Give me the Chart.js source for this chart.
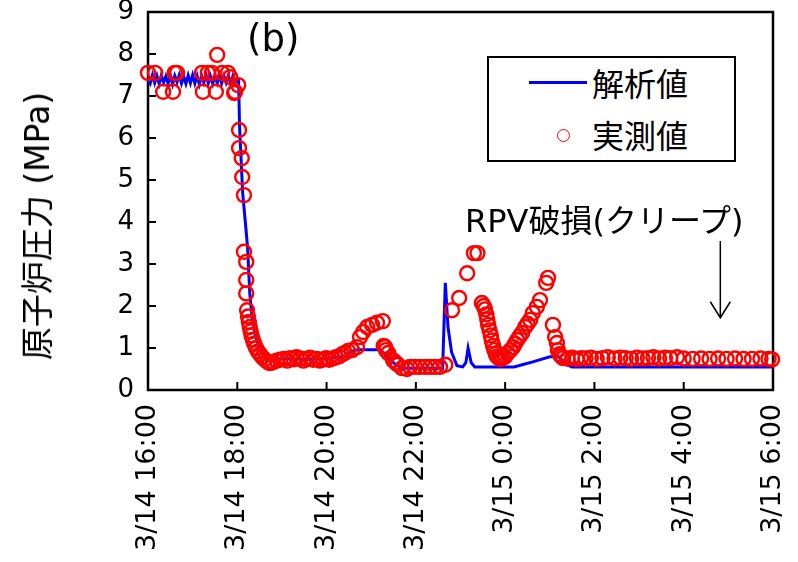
<!DOCTYPE html>
<html>
<head>
<meta charset="utf-8">
<script src="https://cdn.jsdelivr.net/npm/chart.js@4.4.1/dist/chart.umd.min.js"></script>
<style>
  html, body { margin: 0; padding: 0; background: #fff; }
  #wrap { position: relative; width: 798px; height: 562px; }
  #chart { position: absolute; left: 0; top: 0; }
  .txt { position: absolute; white-space: nowrap; color: #000; font-family: "DejaVu Sans", "Noto Sans CJK JP", sans-serif; }
  #yTitle { left: 35px; top: 226px; font-size: 33px; transform: translate(-50%, -50%) rotate(-90deg); }
  #panel { left: 247px; top: 17px; font-size: 37px; }
  #note { left: 465px; top: 195px; font-size: 32px; }
  #legend { position: absolute; left: 487px; top: 56px; width: 245px; height: 102px; border: 2px solid #000; background: #fff; }
  #legend .name { position: absolute; left: 103px; font-size: 32px; line-height: 40px; font-family: "Noto Sans CJK JP", sans-serif; }
  #legLine { position: absolute; left: 40px; top: 23px; width: 58px; height: 3px; background: #0000ff; }
  #legDot { position: absolute; left: 68px; top: 71px; width: 11px; height: 11px; border: 1.5px solid #ff0000; border-radius: 50%; }
</style>
</head>
<body>
<div id="wrap">
  <canvas id="chart" width="798" height="562"></canvas>
  <div class="txt" id="yTitle">原子炉圧力 (MPa)</div>
  <div class="txt" id="panel">(b)</div>
  <div class="txt" id="note">RPV破損(クリープ)</div>
  <div id="legend">
    <div id="legLine"></div>
    <div class="name" style="top: 4px;">解析値</div>
    <div id="legDot"></div>
    <div class="name" style="top: 56px;">実測値</div>
  </div>
</div>
<script>
// 時刻は 3/14 16:00 からの経過時間 (h)
const xTickLabels = ['3/14 16:00', '3/14 18:00', '3/14 20:00', '3/14 22:00',
                     '3/15 0:00', '3/15 2:00', '3/15 4:00', '3/15 6:00'];

// 解析値
const calcTime = [0, 0.05, 0.1, 0.15, 0.2, 0.25, 0.3, 0.35, 0.4, 0.45, 0.5, 0.55, 0.6, 0.65, 0.7, 0.75, 0.8, 0.85, 0.9, 0.95,
    1.0, 1.05, 1.1, 1.15, 1.2, 1.25, 1.3, 1.35, 1.4, 1.45, 1.5, 1.55, 1.6, 1.65, 1.7, 1.75, 1.8, 1.85, 1.9, 1.95, 2.0,
    2.03, 2.05, 2.12, 2.18, 2.23, 2.28, 2.33, 2.40, 2.50, 2.60, 2.80, 3.20, 3.60, 4.00, 4.40, 4.55, 4.70, 5.20, 5.35,
    5.55, 5.70, 6.60, 6.66, 6.72, 6.80, 6.92, 7.05, 7.12, 7.17, 7.24, 7.32, 8.20, 8.38, 8.62, 9.00, 9.20, 9.38, 9.50, 14.0];
const calcPressure = [7.40, 7.30, 7.50, 7.31, 7.48, 7.29, 7.50, 7.32, 7.47, 7.30, 7.49, 7.28, 7.48, 7.33, 7.50, 7.30, 7.47, 7.29, 7.49, 7.31,
    7.50, 7.30, 7.48, 7.28, 7.49, 7.32, 7.50, 7.30, 7.47, 7.29, 7.49, 7.31, 7.50, 7.30, 7.48, 7.32, 7.49, 7.29, 7.47, 7.31, 7.42,
    7.38, 6.30, 4.70, 4.00, 3.40, 2.30, 1.75, 1.30, 1.00, 0.82, 0.75, 0.74, 0.73, 0.75, 0.80, 0.92, 0.96, 0.96, 0.80,
    0.60, 0.52, 0.52, 2.55, 1.50, 0.90, 0.58, 0.55, 0.65, 1.00, 0.65, 0.55, 0.55, 0.60, 0.67, 0.79, 0.79, 0.60, 0.55, 0.55];

// 実測値
const measTime = [0.00, 0.16, 0.34, 0.56, 0.60, 0.65, 1.21, 1.23, 1.34, 1.43, 1.52, 1.55, 1.66, 1.79, 1.84, 1.93, 1.95, 2.02,
    2.04, 2.04, 2.10, 2.11, 2.15, 2.15, 2.20, 2.20, 2.20, 2.22,
    2.24, 2.26, 2.28, 2.30, 2.32, 2.35, 2.38, 2.42, 2.46, 2.51, 2.56, 2.62, 2.68, 2.73, 2.80, 2.88, 2.96, 3.05, 3.12,
    3.18, 3.26, 3.33, 3.41, 3.48, 3.55, 3.63, 3.70, 3.78, 3.85, 3.92, 3.99, 4.06, 4.14, 4.21, 4.28, 4.35, 4.41, 4.48,
    4.57, 4.68, 4.75, 4.82, 4.91, 5.02, 5.13, 5.26, 5.28, 5.31, 5.33, 5.38, 5.49, 5.55, 5.60, 5.69,
    5.80, 5.87, 5.98, 6.09, 6.21, 6.32, 6.43, 6.54, 6.66,
    6.81, 6.97, 7.15, 7.30, 7.38, 7.48, 7.52, 7.55, 7.58, 7.60, 7.62, 7.65, 7.68, 7.70, 7.73, 7.76, 7.79, 7.82, 7.86,
    7.90, 7.94, 8.00, 8.06, 8.12, 8.18, 8.22, 8.27, 8.32, 8.38, 8.45, 8.50, 8.56, 8.62, 8.71, 8.78, 8.92, 8.96,
    9.07, 9.12, 9.16, 9.18, 9.22, 9.26, 9.30,
    9.40, 9.50, 9.60, 9.70, 9.80, 9.92, 10.05, 10.18, 10.30, 10.45, 10.58, 10.70, 10.82, 10.95, 11.08, 11.20, 11.32,
    11.45, 11.58, 11.70, 11.85, 12.00, 12.20, 12.39, 12.58, 12.77, 12.96, 13.15, 13.34, 13.53, 13.72, 13.90, 13.98];
const measPressure = [7.55, 7.55, 7.10, 7.10, 7.55, 7.55, 7.55, 7.10, 7.55, 7.55, 7.10, 7.98, 7.55, 7.55, 7.45, 7.07, 7.10, 7.26,
    6.19, 5.76, 5.52, 5.07, 4.64, 3.29, 3.05, 2.62, 2.30, 1.90,
    1.75, 1.62, 1.50, 1.40, 1.30, 1.20, 1.10, 1.00, 0.92, 0.85, 0.78, 0.72, 0.67, 0.64, 0.66, 0.70, 0.72, 0.74, 0.70,
    0.76, 0.73, 0.78, 0.75, 0.70, 0.74, 0.77, 0.72, 0.74, 0.70, 0.73, 0.76, 0.72, 0.75, 0.78, 0.80, 0.85, 0.88, 0.93,
    0.95, 1.02, 1.26, 1.38, 1.50, 1.55, 1.60, 1.64, 1.05, 1.02, 0.95, 0.88, 0.71, 0.65, 0.60, 0.52,
    0.50, 0.55, 0.55, 0.55, 0.55, 0.55, 0.55, 0.55, 0.60,
    1.90, 2.19, 2.78, 3.26, 3.26, 2.07, 2.00, 1.92, 1.80, 1.68, 1.55, 1.42, 1.30, 1.18, 1.05, 0.95, 0.86, 0.80, 0.76,
    0.74, 0.76, 0.79, 0.88, 0.95, 1.02, 1.10, 1.19, 1.27, 1.36, 1.50, 1.58, 1.67, 1.83, 1.98, 2.14, 2.55, 2.67,
    1.55, 1.26, 1.12, 0.95, 0.85, 0.80, 0.76,
    0.75, 0.77, 0.74, 0.76, 0.75, 0.77, 0.74, 0.76, 0.78, 0.75, 0.77, 0.76, 0.74, 0.77, 0.75, 0.76, 0.78,
    0.75, 0.77, 0.76, 0.78, 0.75, 0.74, 0.75, 0.74, 0.75, 0.74, 0.75, 0.74, 0.74, 0.75, 0.74, 0.73];

// 矢印 (RPV破損) の位置 (データ座標)
const arrowTime = 12.82;
const arrowTop = 3.55;
const arrowBottom = 1.72;

const toPoints = (xs, ys) => xs.map((x, i) => ({ x: x, y: ys[i] }));

// 枠線・内向きの目盛り・矢印
const framePlugin = {
    id: 'frame',
    beforeDatasetsDraw(chart) {
        const { ctx, chartArea: a, scales } = chart;
        ctx.save();
        ctx.strokeStyle = '#000';
        ctx.lineWidth = 2.5;
        ctx.strokeRect(a.left, a.top, a.right - a.left, a.bottom - a.top);
        ctx.lineWidth = 2;
        ctx.beginPath();
        scales.x.ticks.forEach(t => {
            const px = scales.x.getPixelForValue(t.value);
            ctx.moveTo(px, a.bottom);
            ctx.lineTo(px, a.bottom - 8);
        });
        scales.y.ticks.forEach(t => {
            const py = scales.y.getPixelForValue(t.value);
            ctx.moveTo(a.left, py);
            ctx.lineTo(a.left + 8, py);
        });
        ctx.stroke();
        ctx.restore();
    },
    afterDatasetsDraw(chart) {
        const { ctx, scales } = chart;
        const ax = scales.x.getPixelForValue(arrowTime);
        const y0 = scales.y.getPixelForValue(arrowTop);
        const y1 = scales.y.getPixelForValue(arrowBottom);
        ctx.save();
        ctx.strokeStyle = '#000';
        ctx.lineWidth = 1.5;
        ctx.beginPath();
        ctx.moveTo(ax, y0);
        ctx.lineTo(ax, y1);
        ctx.moveTo(ax - 10, y1 - 16);
        ctx.lineTo(ax, y1);
        ctx.lineTo(ax + 10, y1 - 16);
        ctx.stroke();
        ctx.restore();
    }
};

new Chart(document.getElementById('chart').getContext('2d'), {
    type: 'scatter',
    data: {
        datasets: [{
            label: '実測値',
            data: toPoints(measTime, measPressure),
            pointStyle: 'circle',
            pointRadius: 7,
            pointBorderWidth: 2.4,
            pointBorderColor: '#ff0000',
            pointBackgroundColor: 'rgba(0,0,0,0)',
            showLine: false,
            clip: false
        }, {
            label: '解析値',
            data: toPoints(calcTime, calcPressure),
            showLine: true,
            borderColor: '#0000ff',
            borderWidth: 3,
            pointRadius: 0,
            tension: 0,
            clip: false
        }]
    },
    options: {
        responsive: false,
        animation: false,
        layout: { autoPadding: false, padding: { top: 12, right: 25, left: 0, bottom: 0 } },
        plugins: { legend: { display: false }, tooltip: { enabled: false } },
        scales: {
            x: {
                type: 'linear',
                min: 0,
                max: 14,
                afterFit(s) {
                    s.height = 172;
                    s.paddingLeft = 0;
                    s.paddingRight = 0;
                },
                grid: { display: false, drawTicks: false },
                border: { display: false },
                ticks: {
                    stepSize: 2,
                    minRotation: 90,
                    maxRotation: 90,
                    padding: 14,
                    color: '#000',
                    font: { family: '"DejaVu Sans", sans-serif', size: 27 },
                    callback: v => xTickLabels[Math.round(v / 2)]
                }
            },
            y: {
                min: 0,
                max: 9,
                afterFit(s) {
                    s.width = 148;
                    s.paddingTop = 0;
                    s.paddingBottom = 0;
                },
                grid: { display: false, drawTicks: false },
                border: { display: false },
                ticks: {
                    stepSize: 1,
                    padding: 14,
                    color: '#000',
                    font: { family: '"DejaVu Sans", sans-serif', size: 26 }
                }
            }
        }
    },
    plugins: [framePlugin]
});
</script>
</body>
</html>
